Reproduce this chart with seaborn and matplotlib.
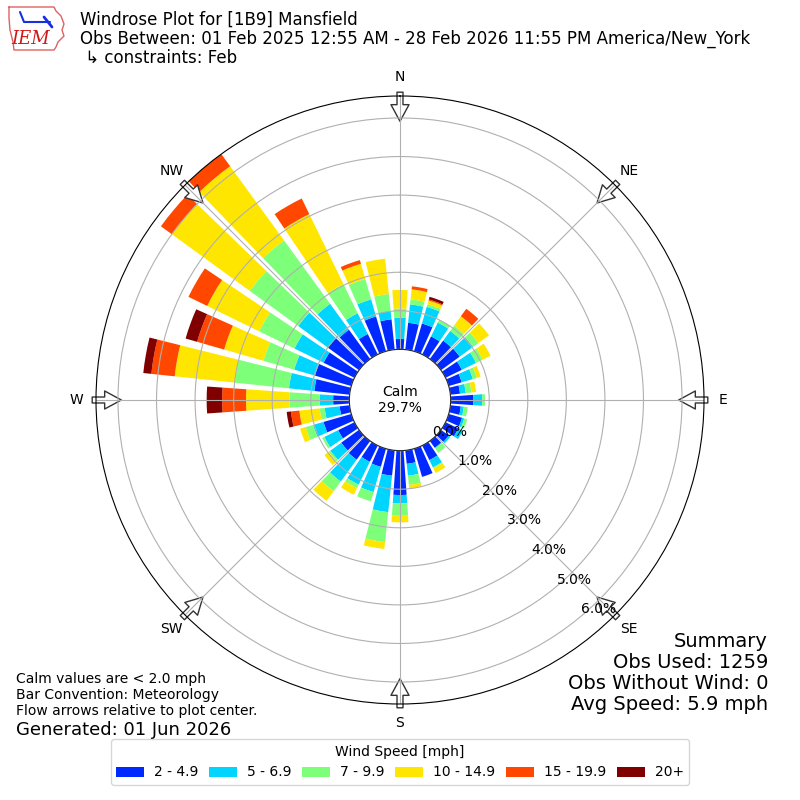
import numpy as np
import matplotlib
matplotlib.use("Agg")
import matplotlib.pyplot as plt
import seaborn as sns

# direction bins (deg, meteorological) and percent of obs per speed bin
directions = np.arange(0, 360, 10)
speed_labels = ["2 - 4.9", "5 - 6.9", "7 - 9.9", "10 - 14.9", "15 - 19.9", "20+"]
pct_2_5 = [0.27, 0.70, 0.75, 0.52, 0.59, 0.60, 0.47, 0.35, 0.25, 0.59, 0.27, 0.36,
           0.37, 0.25, 0.22, 0.42, 0.76, 0.35, 1.15, 0.66, 0.49, 0.47, 0.60, 0.57,
           0.47, 0.75, 0.26, 0.42, 0.92, 0.98, 0.89, 1.00, 0.94, 0.59, 0.94, 0.79]
pct_5_7 = [0.55, 0.48, 0.45, 0.40, 0.31, 0.43, 0.41, 0.30, 0.15, 0.23, 0.08, 0.06,
           0.13, 0.05, 0.02, 0.21, 0.00, 0.31, 0.22, 0.95, 0.68, 0.66, 0.70, 0.35,
           0.40, 0.28, 0.39, 0.35, 0.66, 0.56, 0.84, 0.95, 0.83, 0.60, 0.46, 0.22]
pct_7_10 = [0.24, 0.13, 0.07, 0.08, 0.17, 0.17, 0.19, 0.11, 0.15, 0.07, 0.10, 0.08,
            0.00, 0.00, 0.14, 0.03, 0.00, 0.24, 0.32, 0.78, 0.25, 0.10, 0.31, 0.05,
            0.06, 0.20, 0.13, 0.78, 1.41, 0.83, 1.02, 1.55, 2.03, 0.84, 0.55, 0.44]
pct_10_15 = [0.48, 0.26, 0.10, 0.00, 0.30, 0.34, 0.23, 0.10, 0.12, 0.00, 0.00, 0.00,
             0.00, 0.00, 0.00, 0.13, 0.00, 0.09, 0.17, 0.18, 0.00, 0.19, 0.31, 0.14,
             0.00, 0.15, 0.53, 1.13, 1.57, 1.06, 1.50, 2.50, 2.38, 2.02, 0.41, 0.92]
pct_15_20 = [0.00, 0.08, 0.03, 0.00, 0.24, 0.00, 0.00, 0.00, 0.00, 0.00, 0.00, 0.00,
             0.00, 0.00, 0.00, 0.00, 0.00, 0.00, 0.00, 0.00, 0.00, 0.00, 0.00, 0.00,
             0.00, 0.00, 0.22, 0.62, 0.61, 0.73, 0.54, 0.35, 0.39, 0.45, 0.10, 0.00]
pct_20 = [0.00, 0.00, 0.07, 0.00, 0.00, 0.00, 0.00, 0.00, 0.00, 0.00, 0.00, 0.00,
          0.00, 0.00, 0.00, 0.00, 0.00, 0.00, 0.00, 0.00, 0.00, 0.00, 0.00, 0.00,
          0.00, 0.00, 0.11, 0.40, 0.21, 0.31, 0.00, 0.00, 0.00, 0.00, 0.00, 0.00]
calm_pct = 29.7
compass = ["N", "NE", "E", "SE", "S", "SW", "W", "NW"]

sns.set_style("white")
plt.rcParams["font.family"] = ["DejaVu Sans"]
plt.rcParams["axes.axisbelow"] = "line"
for key in ["text.color", "axes.labelcolor", "xtick.color", "ytick.color"]:
    plt.rcParams[key] = "black"

colors = sns.color_palette([plt.get_cmap("jet")(i / 6.0) for i in range(1, 7)])
series = [pct_2_5, pct_5_7, pct_7_10, pct_10_15, pct_15_20, pct_20]

fig = plt.figure(figsize=(8, 8), dpi=100)
ax = fig.add_axes([0.12, 0.12, 0.76, 0.76], projection="polar")
ax.set_theta_zero_location("N")
ax.set_theta_direction(-1)

theta = np.radians(directions)
width = np.radians(10) * 0.8
bottom = np.zeros(len(directions))
for vals, color, label in zip(series, colors, speed_labels):
    vals = np.array(vals)
    ax.bar(theta, vals, width=width, bottom=bottom, color=color,
           label=label, linewidth=0, zorder=1)
    bottom += vals

rmax = bottom.max()
ax.set_ylim(0, rmax)
ax.set_rorigin(-0.2 * rmax)
ax.set_yticks(np.arange(0, 7))
ax.set_yticklabels(["%.1f%%" % v for v in range(0, 7)])
ax.set_rlabel_position(140)
ax.set_xticks(np.radians(np.arange(0, 360, 45)))
ax.set_xticklabels(compass)
ax.grid(True, color="#b0b0b0", linewidth=0.8)
ax.spines["polar"].set_color("black")

# flow arrows at the edge, kept under grid, spine and tick labels
for deg in range(0, 360, 45):
    t = np.radians(deg)
    ax.annotate("", xy=(t, rmax * 0.9), xytext=(t, rmax * 1.015),
                arrowprops=dict(facecolor="white", edgecolor="#333333",
                                width=4.3, headwidth=13, headlength=12, lw=1),
                annotation_clip=False, zorder=1.2)

ax.text(0.5, 0.5, "Calm\n%.1f%%" % calm_pct, transform=ax.transAxes,
        ha="center", va="center", fontsize=10)

fig.text(0.1, 0.986, "Windrose Plot for [1B9] Mansfield\n"
         "Obs Between: 01 Feb 2025 12:55 AM - 28 Feb 2026 11:55 PM America/New_York\n"
         " \u21b3 constraints: Feb", va="top", ha="left", fontsize=12,
         linespacing=1.05)

# simple IEM logo
logo_x = [9, 54, 56, 61, 64, 62, 64, 58, 56, 54, 14, 13, 10, 9, 9]
logo_y = [7, 7, 11, 16, 24, 30, 36, 42, 47, 50, 50, 42, 30, 18, 7]
fig.add_artist(plt.Line2D(np.array(logo_x) / 800.0, 1 - np.array(logo_y) / 800.0,
                          color="#e06060", lw=1, transform=fig.transFigure))
fig.add_artist(plt.Line2D(np.array([20, 24, 50]) / 800.0, 1 - np.array([12, 22, 22]) / 800.0,
                          color="#1a2ee0", lw=1.5, transform=fig.transFigure))
fig.add_artist(plt.Line2D(np.array([44, 52]) / 800.0, 1 - np.array([17, 27]) / 800.0,
                          color="#1a2ee0", lw=2, transform=fig.transFigure))
fig.text(31 / 800.0, 1 - 39 / 800.0, "IEM", color="#d01818", fontsize=13,
         fontfamily="DejaVu Serif", style="italic", ha="center", va="center")

fig.text(0.02, 0.103, "Calm values are < 2.0 mph\nBar Convention: Meteorology\n"
         "Flow arrows relative to plot center.", fontsize=10, va="bottom",
         linespacing=1.15)
fig.text(0.02, 0.0875, "Generated: 01 Jun 2026", fontsize=13, va="center")
fig.text(0.96, 0.108, "Summary\nObs Used: 1259\nObs Without Wind: 0\nAvg Speed: 5.9 mph",
         fontsize=14, ha="right", va="bottom", linespacing=1.12)

fig.legend(loc="lower center", bbox_to_anchor=(0.5, 0.01), ncol=6,
           title="Wind Speed [mph]", fontsize=10, title_fontsize=10,
           columnspacing=0.8, handletextpad=0.7)

fig.savefig("out.png", dpi=100)
